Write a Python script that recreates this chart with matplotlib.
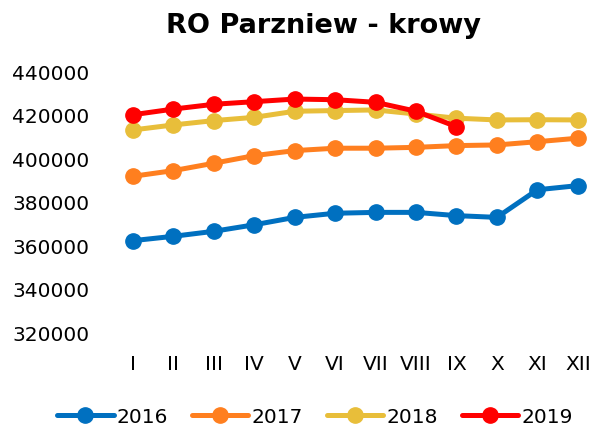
import numpy as np
import matplotlib.pyplot as plt

plt.rcParams['font.family'] = ['DejaVu Sans']

months = ["I", "II", "III", "IV", "V", "VI", "VII", "VIII", "IX", "X", "XI", "XII"]
v2016 = [362000, 364000, 366300, 369300, 372700, 374600, 375000, 375000, 373500, 372700, 385400, 387300]
v2017 = [391600, 394200, 397600, 401100, 403400, 404500, 404500, 404900, 405700, 406000, 407500, 409100]
v2018 = [412900, 415200, 417200, 418700, 421500, 421800, 422100, 420200, 418300, 417500, 417600, 417500]
v2019 = [419900, 422500, 424700, 425900, 427100, 426800, 425600, 421500, 414400]

series = [("2016", v2016, "#0070C0"), ("2017", v2017, "#FF7F1F"),
          ("2018", v2018, "#E8BE3A"), ("2019", v2019, "#FF0000")]

fig = plt.figure(figsize=(6.01, 4.31), dpi=100)
ax = fig.add_axes([112.8 / 601, 1 - 333 / 431, (598 - 112.8) / 601, (333 - 72) / 431])

x = np.arange(len(months))
for name, vals, col in series:
    ax.plot(x[:len(vals)], vals, color=col, lw=3.6, marker="o", ms=11,
            solid_capstyle="round", label=name)

ax.set_xlim(-0.5, 11.5)
ax.set_ylim(320000, 440000)
ax.set_yticks(np.arange(320000, 440001, 20000))
ax.set_xticks(x)
ax.set_xticklabels(months)
ax.tick_params(length=0, labelsize=14.5)
ax.tick_params(axis="y", pad=17)
ax.tick_params(axis="x", pad=16)
for s in ax.spines.values():
    s.set_visible(False)

fig.text(323 / 601, 1 - 33 / 431, "RO Parzniew - krowy", ha="center", va="baseline",
         fontsize=19.5, fontweight="bold")
fig.legend(loc="center", bbox_to_anchor=(315 / 601, 1 - 418 / 431), ncol=4, frameon=False,
           fontsize=14.5, handlelength=2.8, columnspacing=1.2, handletextpad=0.15, borderpad=0)

fig.savefig("out.png", dpi=100)
